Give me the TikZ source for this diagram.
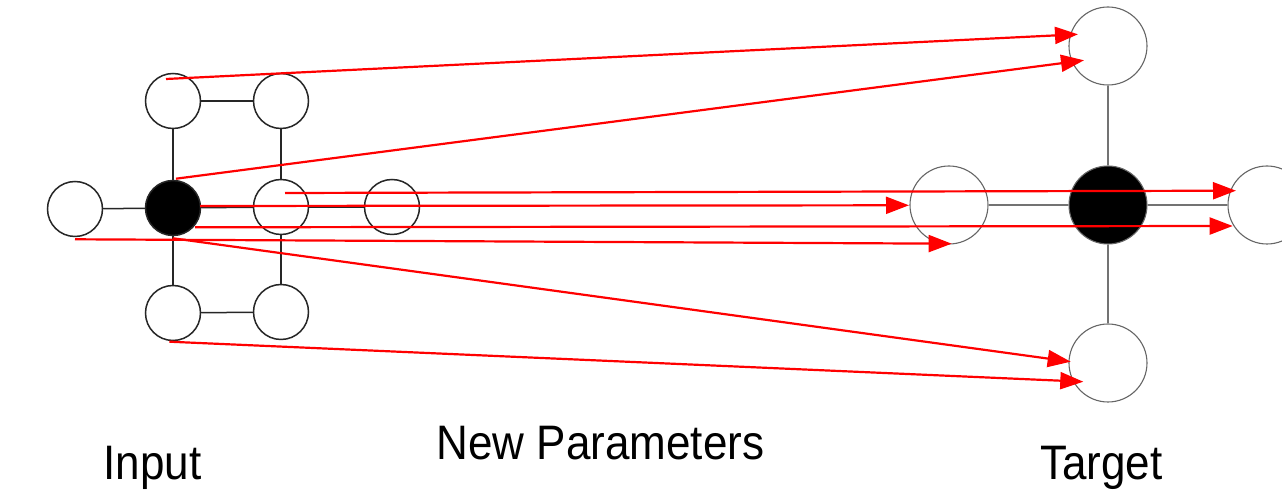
\documentclass[tikz,border=0pt]{standalone}
\usepackage{fontspec}
\setmainfont{Liberation Sans}
\usetikzlibrary{arrows.meta}

\tikzset{
  small/.style={circle, draw=black!85, line width=0.75pt, fill=white,
    minimum size=27.5pt, inner sep=0pt},
  smallfilled/.style={small, fill=black},
  big/.style={circle, draw=black!60, line width=0.55pt, fill=white,
    minimum size=39pt, inner sep=0pt},
  bigfilled/.style={big, fill=black},
  link/.style={draw=black!85, line width=0.75pt},
  farlink/.style={draw=black!55, line width=0.55pt},
  move/.style={draw=red, line width=1.1pt,
    -{Triangle[length=11.5pt,width=8.5pt]}},
  caption/.style={font=\fontsize{22}{26}\selectfont, anchor=base,
    inner sep=0pt}
}

\begin{document}
\begin{tikzpicture}[x=0.5pt, y=-0.5pt]
  \useasboundingbox (0,0) rectangle (1282,491);

  % input grid
  \node[small] (tl)  at (173,101) {};
  \node[small] (tr)  at (281,101) {};
  \node[small] (in0) at (75,209)  {};
  \node[smallfilled] (blk) at (173,208) {};
  \node[small] (mr)  at (281,207) {};
  \node[small] (np)  at (392,207) {};
  \node[small] (bl)  at (173,313) {};
  \node[small] (br)  at (281,312) {};

  \draw[link] (tl) -- (tr);
  \draw[link] (tl) -- (blk);
  \draw[link] (tr) -- (mr);
  \draw[link] (in0) -- (blk);
  \draw[link] (blk) -- (mr);
  \draw[link] (mr) -- (np);
  \draw[link] (blk) -- (bl);
  \draw[link] (mr) -- (br);
  \draw[link] (bl) -- (br);

  % target neighbourhood
  \node[big] (tt)  at (1108,46)  {};
  \node[big] (tml) at (949,205)  {};
  \node[bigfilled] (tb) at (1108,205) {};
  \node[big] (tr2) at (1267,205) {};
  \node[big] (tbo) at (1108,363) {};

  \draw[farlink] (tt) -- (tb);
  \draw[farlink] (tb) -- (tbo);
  \draw[farlink] (tml) -- (tb);
  \draw[farlink] (tb) -- (tr2);

  % mapping from the input grid to the target
  \draw[move] ([shift={(-7,-22)}]tl.center)   -- ([shift={(-30,-11.7)}]tt.center);
  \draw[move] ([shift={(3,-29.3)}]blk.center) -- ([shift={(-24,14.3)}]tt.center);
  \draw[move] ([shift={(4,-14)}]mr.center)    -- ([shift={(-31,-14.3)}]tr2.center);
  \draw[move] ([shift={(27,-2)}]blk.center)   -- ([shift={(-40,0.3)}]tml.center);
  \draw[move] ([shift={(22,19.3)}]blk.center) -- ([shift={(-34.3,21)}]tr2.center);
  \draw[move] ([shift={(0,30.3)}]in0.center)  -- ([shift={(2.7,38.7)}]tml.center);
  \draw[move] ([shift={(0,30.3)}]blk.center)  -- ([shift={(-37.3,-1.3)}]tbo.center);
  \draw[move] ([shift={(-3.7,28.7)}]bl.center) -- ([shift={(-24.7,18.7)}]tbo.center);

  % captions
  \node[caption] (cin)  at (152.5,480) {\scalebox{1}[1.1]{Input}};
  \node[caption] (cnew) at (600.5,460) {\scalebox{1}[1.1]{New Parameters}};
  \node[caption] (ctar) at (1101.5,480) {\scalebox{1}[1.1]{Target}};
\end{tikzpicture}
\end{document}
